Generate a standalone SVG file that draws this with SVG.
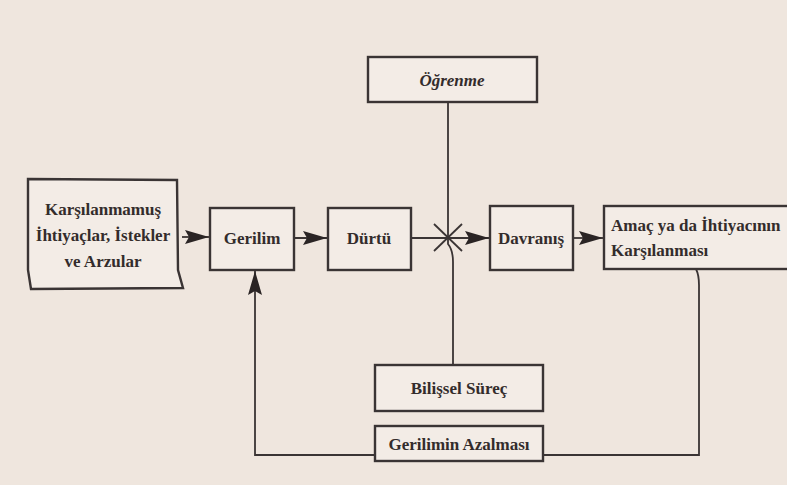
<svg xmlns="http://www.w3.org/2000/svg" width="787" height="485" viewBox="0 0 787 485">
<style>
.box{fill:#f3ece6;stroke:#3a3434;stroke-width:2.4}
.ln{fill:none;stroke:#3a3434;stroke-width:1.8}
.t{font-family:"Liberation Serif","DejaVu Serif",serif;font-weight:bold;font-size:17px;fill:#332c2c}
</style>
<defs>
<marker id="ah" viewBox="0 0 24 16" refX="24" refY="8" markerWidth="24" markerHeight="16" markerUnits="userSpaceOnUse" orient="auto">
<path d="M0,1 L24,8 L0,15 L4,8 Z" fill="#2a2424"/>
</marker>
</defs>
<rect x="0" y="0" width="787" height="485" fill="#efe6de"/>
<g id="connectors">
<line class="ln" x1="182" y1="237" x2="209" y2="237" marker-end="url(#ah)"/>
<line class="ln" x1="294" y1="238" x2="327" y2="238" marker-end="url(#ah)"/>
<line class="ln" x1="411" y1="238" x2="489" y2="238" marker-end="url(#ah)"/>
<line class="ln" x1="573" y1="238" x2="603" y2="238" marker-end="url(#ah)"/>
<path class="ln" d="M448,102 L448,244 Q453,250 453,262 L453,365"/>
<line class="ln" x1="434" y1="224" x2="462" y2="251"/>
<line class="ln" x1="434" y1="251" x2="462" y2="224"/>
<path class="ln" d="M696,269 Q699,275 699,285 L699,455 L543,455"/>
<path class="ln" d="M375,455 L255,455 L255,271" marker-end="url(#ah)"/>
</g>
<g id="n-karsilanmamis">
<path class="box" d="M28,179 L177,180 L178,270 L183,288 L31,289 L28,270 Z"/>
<text class="t" x="103" y="215" text-anchor="middle">Karşılanmamuş</text>
<text class="t" x="103" y="241" text-anchor="middle">İhtiyaçlar, İstekler</text>
<text class="t" x="103" y="267" text-anchor="middle">ve Arzular</text>
</g>
<g id="n-gerilim">
<rect class="box" x="210" y="208" width="84" height="62"/>
<text class="t" x="252" y="244" text-anchor="middle">Gerilim</text>
</g>
<g id="n-durtu">
<rect class="box" x="328" y="208" width="83" height="62"/>
<text class="t" x="369" y="244" text-anchor="middle">Dürtü</text>
</g>
<g id="n-davranis">
<rect class="box" x="490" y="206" width="83" height="64"/>
<text class="t" x="531" y="244" text-anchor="middle">Davranış</text>
</g>
<g id="n-amac">
<rect class="box" x="604" y="206" width="190" height="63"/>
<text class="t" x="611" y="231">Amaç ya da İhtiyacının</text>
<text class="t" x="611" y="256">Karşılanması</text>
</g>
<g id="n-ogrenme">
<rect class="box" x="368" y="57" width="169" height="45"/>
<text class="t" x="452" y="86" text-anchor="middle" font-style="italic">Öğrenme</text>
</g>
<g id="n-bilissel">
<rect class="box" x="375" y="365" width="168" height="46"/>
<text class="t" x="459" y="394" text-anchor="middle">Bilişsel Süreç</text>
</g>
<g id="n-gerilimin-azalmasi">
<rect class="box" x="375" y="426" width="168" height="35"/>
<text class="t" x="459" y="450" text-anchor="middle">Gerilimin Azalması</text>
</g>
</svg>
